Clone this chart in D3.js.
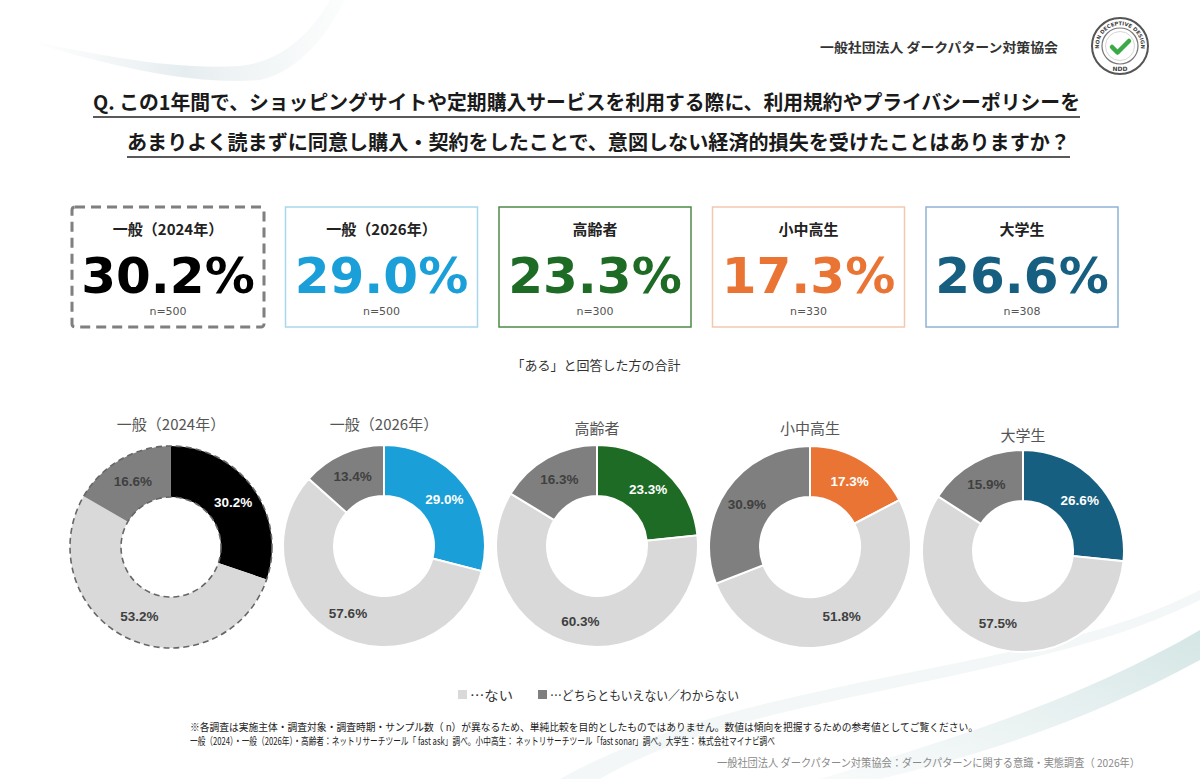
<!DOCTYPE html>
<html><head><meta charset="utf-8">
<script src="https://cdn.jsdelivr.net/npm/d3@7/dist/d3.min.js"></script>
<style>
html,body{margin:0;padding:0;background:#fff;}
svg{display:block;}
</style></head>
<body>
<svg id="chart" width="1200" height="779"></svg>
<script>
// ---- data ----
const groups = ["一般（2024年）", "一般（2026年）", "高齢者", "小中高生", "大学生"];
const sampleSizes = [500, 500, 300, 330, 308];
const aruValues = [30.2, 29.0, 23.3, 17.3, 26.6];       // ある
const naiValues = [53.2, 57.6, 60.3, 51.8, 57.5];       // ない
const unsureValues = [16.6, 13.4, 16.3, 30.9, 15.9];    // どちらともいえない／わからない
const legendLabels = ["…ない", "…どちらともいえない／わからない"];

const titleLines = [
  "Q. この1年間で、ショッピングサイトや定期購入サービスを利用する際に、利用規約やプライバシーポリシーを",
  "あまりよく読まずに同意し購入・契約をしたことで、意図しない経済的損失を受けたことはありますか？"
];
const orgName = "一般社団法人 ダークパターン対策協会";
const subTitle = "「ある」と回答した方の合計";
const notes = [
  "※各調査は実施主体・調査対象・調査時期・サンプル数（ n）が異なるため、単純比較を目的としたものではありません。数値は傾向を把握するための参考値としてご覧ください。",
  "一般（2024）・一般（2026年）・高齢者：ネットリサーチツール「 fast ask」調べ。小中高生： ネットリサーチツール「fast sonar」調べ。大学生： 株式会社マイナビ調べ"
];
const sourceText = "一般社団法人 ダークパターン対策協会：ダークパターンに関する意識・実態調査（ 2026年）";

// ---- styles ----
const accent = ["#000000", "#1a9fd8", "#1d6b24", "#ea7433", "#175f80"];
const boxBorder = ["#7f7f7f", "#a9d7ec", "#4d8a45", "#f2c8b0", "#8db3d6"];
const naiColor = "#d9d9d9", unsureColor = "#7f7f7f";
const jp = "'Noto Sans CJK JP','Noto Sans',sans-serif";
const num = "'DejaVu Sans',Verdana,sans-serif";
const lab = "'Liberation Sans',Arial,sans-serif";

const svg = d3.select("#chart");

// ---- background decoration ----
const defs = svg.append("defs");
const g1 = defs.append("linearGradient").attr("id","sw1").attr("x1","0").attr("x2","1").attr("y1","0").attr("y2","0");
g1.append("stop").attr("offset","0").attr("stop-color","#e9eef0").attr("stop-opacity",0.0);
g1.append("stop").attr("offset","0.5").attr("stop-color","#e3ebee").attr("stop-opacity",0.9);
g1.append("stop").attr("offset","1").attr("stop-color","#eef3f4").attr("stop-opacity",0.2);
svg.append("path").attr("d","M25,40 C120,70 200,85 260,80 C300,72 330,30 345,0 L330,0 C310,35 280,62 240,66 C170,70 100,55 25,40 Z")
  .attr("fill","url(#sw1)");
const g2 = defs.append("linearGradient").attr("id","sw2").attr("x1","0").attr("x2","1").attr("y1","1").attr("y2","0");
g2.append("stop").attr("offset","0").attr("stop-color","#dfeaea").attr("stop-opacity",0.2);
g2.append("stop").attr("offset","1").attr("stop-color","#cfe3e2").attr("stop-opacity",0.9);
svg.append("path").attr("d","M820,779 C950,740 1080,700 1200,630 L1200,660 C1090,720 980,755 880,779 Z").attr("fill","url(#sw2)");
svg.append("path").attr("d","M560,779 C700,700 900,680 1060,640 C1120,625 1160,610 1200,590 L1200,600 C1150,625 1090,645 1000,665 C850,700 700,720 600,779 Z")
  .attr("fill","#eef4f4").attr("opacity",0.7);

// ---- header ----
svg.append("text").attr("x",820).attr("y",52).attr("font-family",jp).attr("font-weight",700)
  .attr("font-size",13).attr("fill","#333").attr("textLength",238).attr("lengthAdjust","spacingAndGlyphs").text(orgName);

// logo
const logo = svg.append("g").attr("transform","translate(1120,46)");
logo.append("circle").attr("r",28).attr("fill","#fff").attr("stroke","#555").attr("stroke-width",2);
logo.append("circle").attr("r",18).attr("fill","none").attr("stroke","#777").attr("stroke-width",1.2);
logo.append("circle").attr("r",14.5).attr("fill","#fff").attr("stroke","#ccc").attr("stroke-width",0.8);
defs.append("path").attr("id","logoArc").attr("d","M-19.5,8 A21,21 0 1,1 19.5,8");
logo.append("text").attr("font-family",num).attr("font-weight",700).attr("font-size",5.2).attr("fill","#444")
  .append("textPath").attr("href","#logoArc").attr("startOffset","50%").attr("text-anchor","middle").text("NON DECEPTIVE DESIGN");
logo.append("text").attr("y",25).attr("text-anchor","middle").attr("font-family",num).attr("font-weight",700)
  .attr("font-size",6).attr("fill","#444").text("NDD");
logo.append("path").attr("d","M-8,1 L-2.5,6.5 L9,-5").attr("fill","none").attr("stroke","#3aaa46")
  .attr("stroke-width",4.5).attr("stroke-linecap","round").attr("stroke-linejoin","round");

// title
const titleX = [93, 127], titleY = [110, 150], titleW = [987, 943];
titleLines.forEach((t,i)=>{
  svg.append("text").attr("x",titleX[i]).attr("y",titleY[i]).attr("font-family",jp).attr("font-weight",700)
    .attr("font-size",20).attr("fill","#1a1a1a").attr("textLength",titleW[i]).attr("lengthAdjust","spacingAndGlyphs").text(t);
  svg.append("line").attr("x1",titleX[i]).attr("x2",titleX[i]+titleW[i]).attr("y1",titleY[i]+7).attr("y2",titleY[i]+7)
    .attr("stroke","#222").attr("stroke-width",1.3);
});

// ---- summary boxes ----
const boxX = d3.scalePoint().domain(groups).range([168, 1022]);
const boxW = 192, boxH = 120, boxTop = 207;
const boxes = svg.append("g").selectAll("g").data(groups).join("g")
  .attr("transform", d => `translate(${boxX(d)},0)`);
boxes.append("rect").attr("x",-boxW/2).attr("y",boxTop).attr("width",boxW).attr("height",boxH)
  .attr("rx", (d,i)=> i===0 ? 3 : 0)
  .attr("fill","#fff")
  .attr("stroke",(d,i)=>boxBorder[i])
  .attr("stroke-width",(d,i)=> i===0 ? 3 : 1.5)
  .attr("stroke-dasharray",(d,i)=> i===0 ? "10,6" : null);
boxes.append("text").attr("y",235).attr("text-anchor","middle").attr("font-family",jp).attr("font-weight",700)
  .attr("font-size",15).attr("fill","#222").text(d=>d);
boxes.append("text").attr("y",293).attr("text-anchor","middle").attr("font-family",num).attr("font-weight",700)
  .attr("font-size",50).attr("fill",(d,i)=>accent[i]).text((d,i)=>aruValues[i].toFixed(1)+"%");
boxes.append("text").attr("y",315).attr("text-anchor","middle").attr("font-family",num)
  .attr("font-size",11).attr("fill","#555").text((d,i)=>"n="+sampleSizes[i]);

svg.append("text").attr("x",596).attr("y",370).attr("text-anchor","middle").attr("font-family",jp)
  .attr("font-size",13).attr("fill","#333").text(subTitle);

// ---- donuts ----
const donutX = d3.scalePoint().domain(groups).range([171, 1023]);
const donutYOffset = [547, 546, 546, 547, 551];
const titleYPos = [430, 430, 434, 434, 441];
const rOuter = 101, rInner = 50;
const pie = d3.pie().sort(null).value(d=>d.v);
const arc = d3.arc().innerRadius(rInner).outerRadius(rOuter);
const labelArc = d3.arc().innerRadius(rInner).outerRadius(rOuter+2);

groups.forEach((gname,i)=>{
  const parts = [
    {k:"aru", v:aruValues[i], c:accent[i], t:"#fff"},
    {k:"nai", v:naiValues[i], c:naiColor, t:"#404040"},
    {k:"uns", v:unsureValues[i], c:unsureColor, t:"#404040"}
  ];
  const g = svg.append("g").attr("transform",`translate(${donutX(gname)},${donutYOffset[i]})`);
  g.append("text").attr("y",titleYPos[i]-donutYOffset[i]).attr("text-anchor","middle").attr("font-family",jp)
    .attr("font-size",15).attr("fill","#555").text(gname);
  const arcs = pie(parts);
  g.selectAll("path.slice").data(arcs).join("path").attr("class","slice").attr("d",arc)
    .attr("fill",d=>d.data.c)
    .attr("stroke", i===0 ? "none" : "#fff").attr("stroke-width",2);
  if(i===0){
    g.append("circle").attr("r",rOuter).attr("fill","none").attr("stroke","#666").attr("stroke-width",1.6).attr("stroke-dasharray","6,4");
    g.append("circle").attr("r",rInner).attr("fill","none").attr("stroke","#666").attr("stroke-width",1.6).attr("stroke-dasharray","6,4");
  }
  g.selectAll("text.lbl").data(arcs).join("text").attr("class","lbl")
    .attr("transform",d=>`translate(${labelArc.centroid(d)})`)
    .attr("dy","0.36em").attr("text-anchor","middle").attr("font-family",lab).attr("font-weight",700)
    .attr("font-size",13.5).attr("fill",d=>d.data.t).text(d=>d.data.v.toFixed(1)+"%");
});

// ---- legend ----
const legend = svg.append("g");
const legX = [458, 538], legColors = [naiColor, unsureColor], legW = [43, 189];
legendLabels.forEach((t,i)=>{
  legend.append("rect").attr("x",legX[i]).attr("y",690).attr("width",9).attr("height",9).attr("fill",legColors[i]);
  legend.append("text").attr("x",legX[i]+12).attr("y",700).attr("font-family",jp).attr("font-size",13)
    .attr("fill","#333").attr("textLength",legW[i]).attr("lengthAdjust","spacingAndGlyphs").text(t);
});

// ---- notes ----
const noteW = [788, 585];
notes.forEach((t,i)=>{
  svg.append("text").attr("x",190).attr("y",731+i*14).attr("font-family",jp).attr("font-size",10.5)
    .attr("fill","#222").attr("textLength",noteW[i]).attr("lengthAdjust","spacingAndGlyphs").text(t);
});
svg.append("text").attr("x",717).attr("y",767).attr("font-family",jp).attr("font-size",11)
  .attr("fill","#8a8a8a").attr("textLength",423).attr("lengthAdjust","spacingAndGlyphs").text(sourceText);
</script>
</body></html>
